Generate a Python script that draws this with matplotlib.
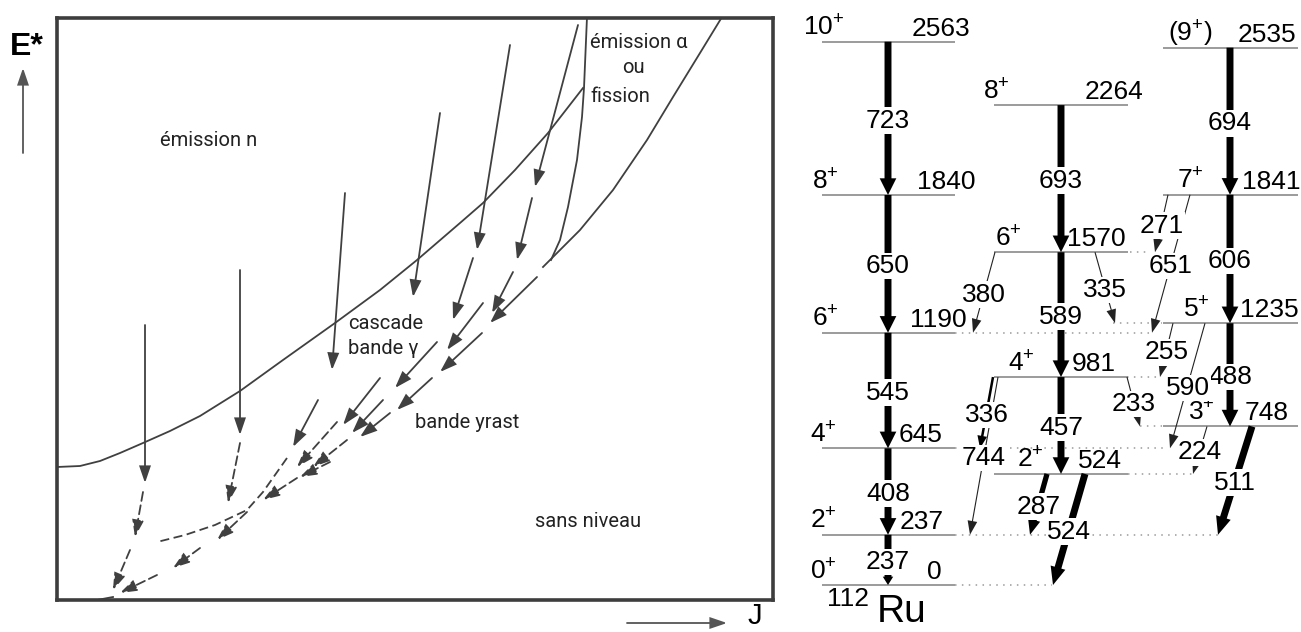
import matplotlib
matplotlib.use("Agg")
import matplotlib.pyplot as plt
from matplotlib.patches import FancyArrowPatch, ArrowStyle

plt.rcParams['font.family'] = ['Liberation Sans', 'DejaVu Sans']
plt.rcParams['mathtext.fontset'] = 'custom'
plt.rcParams['mathtext.rm'] = 'Liberation Sans'
plt.rcParams['mathtext.it'] = 'Liberation Sans:italic'
plt.rcParams['mathtext.bf'] = 'Liberation Sans:bold'

# ---------- left: de-excitation scheme in the (J, E*) plane, arbitrary units ----------
neutron_J = [0, 23, 43, 63, 86, 113, 143, 183, 226, 278, 323, 360, 403, 426, 458, 491, 526]
neutron_E = [133, 134, 139, 147, 157, 169, 184, 209, 240, 277, 310, 340, 377, 397, 430, 467, 512]
fission_J = [530, 527, 525, 520, 511, 503, 494]
fission_E = [583, 512, 483, 440, 393, 360, 340]
yrast_J = [665, 643, 616, 590, 556, 523, 500, 486]
yrast_E = [583, 547, 503, 460, 410, 370, 347, 333]

# (J0, E0, J1, E1)
entry_arrows = [(88, 275, 88, 117), (183, 330, 183, 165), (288, 407, 275, 230),
                (383, 487, 356, 303), (453, 555, 420, 350), (521, 575, 478, 413)]
cascade_arrows = [(261, 200, 236, 153), (323, 222, 286, 175), (416, 342, 396, 280),
                  (475, 402, 460, 340), (456, 328, 435, 287), (480, 323, 433, 277),
                  (426, 297, 390, 250), (425, 267, 383, 228), (380, 258, 338, 212),
                  (375, 222, 340, 190), (326, 200, 295, 167), (333, 187, 303, 163)]
dashed_arrows = [(86, 108, 78, 63), (73, 50, 56, 10), (183, 157, 171, 97),
                 (280, 178, 240, 133), (290, 160, 256, 133), (273, 138, 243, 123),
                 (240, 122, 206, 100), (190, 88, 160, 60), (143, 52, 116, 32),
                 (100, 25, 63, 7)]
band_tail_J = [230, 206, 190, 158, 128, 100]
band_tail_E = [142, 108, 90, 75, 65, 58]
yrast_tail_J = [56, 40]
yrast_tail_E = [3, 0]

# ---------- right: level scheme of 112Ru (keV) ----------
ground_spin = ['0', '2', '4', '6', '8', '10']
ground_E = [0, 237, 645, 1190, 1840, 2563]
ground_gammas = ['237', '408', '545', '650', '723']
even_spin = ['2', '4', '6', '8']
even_E = [524, 981, 1570, 2264]
even_gammas = ['457', '589', '693']
odd_spin = ['3', '5', '7', '(9)']
odd_E = [748, 1235, 1841, 2535]
odd_gammas = ['488', '606', '694']

inter_from = [1570, 1570, 981, 981, 981, 524, 524, 1841, 1841, 1235, 1235, 748, 748]
inter_to = [1190, 1235, 645, 237, 748, 237, 0, 1570, 1190, 981, 645, 524, 237]
inter_labels = ['380', '335', '336', '744', '233', '287', '524', '271', '651', '255', '590', '224', '511']

# layout (pixels of the original picture)
G_X0, G_X1, G_XA = 822, 955, 888
EV_X0, EV_X1, EV_XA = 994, 1128, 1061
OD_X0, OD_X1, OD_XA = 1163, 1298, 1230
ground_spin_x = [810, 810, 810, 812, 812, 803]
ground_E_x = [927, 900, 899, 910, 917, 912]
even_spin_x = [1017, 1008, 995, 983]
even_E_x = [1078, 1072, 1067, 1085]
odd_spin_x = [1188, 1183, 1177, 1168]
odd_E_x = [1245, 1240, 1242, 1238]
inter_x0 = [995, 1095, 993, 998, 1127, 1047, 1085, 1168, 1190, 1173, 1205, 1207, 1252]
inter_x1 = [973, 1115, 980, 970, 1140, 1030, 1053, 1155, 1152, 1160, 1170, 1193, 1218]
inter_w = ['thin', 'thin', 'mid', 'thin', 'thin', 'mid2', 'thick', 'thin', 'thin', 'thin', 'thin', 'thin', 'thick']
dotted = [(1190, 955, 1152), (645, 955, 1168), (237, 955, 1218), (0, 955, 1052),
          (1570, 1130, 1150), (981, 1127, 1157), (524, 1128, 1193), (1235, 1113, 1162),
          (748, 1140, 1162)]
# tail width, head width, head length (points)
styles = {'band': (5.0, 12.0, 12.0), 'last': (5.0, 7.5, 6.0), 'thin': (0.8, 7.0, 10.0),
          'mid': (1.8, 7.0, 9.0), 'mid2': (3.8, 9.0, 11.0), 'thick': (5.0, 11.0, 13.0)}

DARK = '#404040'
FS = 19

fig = plt.figure(figsize=(13.01, 6.32), dpi=100)

ov = fig.add_axes([0, 0, 1, 1])
ov.set_xlim(0, 1301)
ov.set_ylim(632, 0)
ov.axis('off')

ax = fig.add_axes([57 / 1301, 32 / 632, 716 / 1301, 582 / 632])
ax.set_xlim(0, 716)
ax.set_ylim(0, 582)
ax.set_xticks([])
ax.set_yticks([])
for s in ax.spines.values():
    s.set_linewidth(2.6)
    s.set_color('#3d3d3d')


def sk_arrow(a, p0, p1, ls='-', color=DARK):
    a.add_patch(FancyArrowPatch(p0, p1, arrowstyle=ArrowStyle('-|>', head_length=10, head_width=3.4),
                                mutation_scale=1, lw=1.3, ls=ls, color=color,
                                shrinkA=0, shrinkB=0, joinstyle='miter'))


ax.plot(neutron_J, neutron_E, color=DARK, lw=1.3)
ax.plot(fission_J, fission_E, color=DARK, lw=1.3)
ax.plot(yrast_J, yrast_E, color=DARK, lw=1.3)
for j0, e0, j1, e1 in entry_arrows + cascade_arrows:
    sk_arrow(ax, (j0, e0), (j1, e1))
for j0, e0, j1, e1 in dashed_arrows:
    sk_arrow(ax, (j0, e0), (j1, e1), ls=(0, (5, 2.5)))
ax.plot(band_tail_J, band_tail_E, color=DARK, lw=1.3, ls=(0, (5, 2.5)))
ax.plot(yrast_tail_J, yrast_tail_E, color=DARK, lw=1.3)

tk = dict(family=['Roboto', 'DejaVu Sans'], fontsize=14.5, color='#222222', va='baseline', ha='left')
ax.text(103, 454, 'émission n', **tk)
ax.text(533, 552, 'émission α', **tk)
ax.text(565, 527, 'ou', **tk)
ax.text(533, 498, 'fission', **tk)
ax.text(291, 271, 'cascade', **tk)
ax.text(291, 246, 'bande γ', **tk)
ax.text(358, 172, 'bande yrast', **tk)
ax.text(478, 73, 'sans niveau', **tk)

# axis captions
ov.text(10, 55, 'E*', fontsize=23, fontweight='bold', va='baseline', ha='left')
sk_arrow(ov, (23, 153), (23, 68), color='#555555')
sk_arrow(ov, (627, 623), (727, 623), color='#555555')
ov.text(748, 624, 'J', fontsize=21, va='baseline', ha='left')
ov.text(827, 606, '112', fontsize=19, va='baseline', ha='left')
ov.text(877, 622, 'Ru', fontsize=28, va='baseline', ha='left')

# ---------- level scheme ----------
ax2 = fig.add_axes([800 / 1301, 0, 501 / 1301, 1])
ax2.set_xlim(800, 1301)
ax2.set_ylim(-221.7, 2759.8)
ax2.axis('off')


def spin_tex(s):
    if s.startswith('('):
        return r'$(' + s[1:-1] + r'^{+})$'
    return r'$' + s + r'^{+}$'


def lvl_arrow(x0, e0, x1, e1, style, color='k'):
    tw, hw, hl = styles[style]
    ax2.add_patch(FancyArrowPatch((x0, e0), (x1, e1),
                                  arrowstyle=ArrowStyle('simple', head_length=hl, head_width=hw, tail_width=tw),
                                  mutation_scale=1, lw=0, color=color, shrinkA=0, shrinkB=0, zorder=3))


def gamma_label(x, e, txt):
    ax2.annotate(txt, (x, e), xytext=(0, -6.6), textcoords='offset points', ha='center', va='baseline',
                 fontsize=FS, zorder=5,
                 bbox=dict(boxstyle='square,pad=0.05', fc='white', ec='none'))


bands = [(ground_spin, ground_E, ground_gammas, G_X0, G_X1, G_XA, ground_spin_x, ground_E_x),
         (even_spin, even_E, even_gammas, EV_X0, EV_X1, EV_XA, even_spin_x, even_E_x),
         (odd_spin, odd_E, odd_gammas, OD_X0, OD_X1, OD_XA, odd_spin_x, odd_E_x)]

for spins, energies, gammas, x0, x1, xa, sx, ex in bands:
    ax2.hlines(energies, x0, x1, color='#8a8a8a', lw=1.2, zorder=2)
    for s, e, xs, xe in zip(spins, energies, sx, ex):
        ax2.annotate(spin_tex(s), (xs, e), xytext=(0, 4.3), textcoords='offset points',
                     ha='left', va='baseline', fontsize=FS, zorder=4)
        ax2.annotate(str(e), (xe, e), xytext=(0, 4.3), textcoords='offset points',
                     ha='left', va='baseline', fontsize=FS, zorder=4)
    for i, g in enumerate(gammas):
        lo, hi = energies[i], energies[i + 1]
        st = 'last' if (energies is ground_E and i == 0) else 'band'
        lvl_arrow(xa, hi, xa, lo, st)
        gamma_label(xa, (lo + hi) / 2, g)

for e, xa, xb in dotted:
    ax2.plot([xa, xb], [e, e], color='#9a9a9a', lw=1.1, ls=(0, (1, 3.5)), zorder=1)

for ef, et, lab, xa, xb, w in zip(inter_from, inter_to, inter_labels, inter_x0, inter_x1, inter_w):
    col = '#222222' if w == 'thin' else 'k'
    lvl_arrow(xa, ef, xb, et, w, color=col)
    gamma_label((xa + xb) / 2, (ef + et) / 2, lab)

fig.savefig('out.png', dpi=100)
